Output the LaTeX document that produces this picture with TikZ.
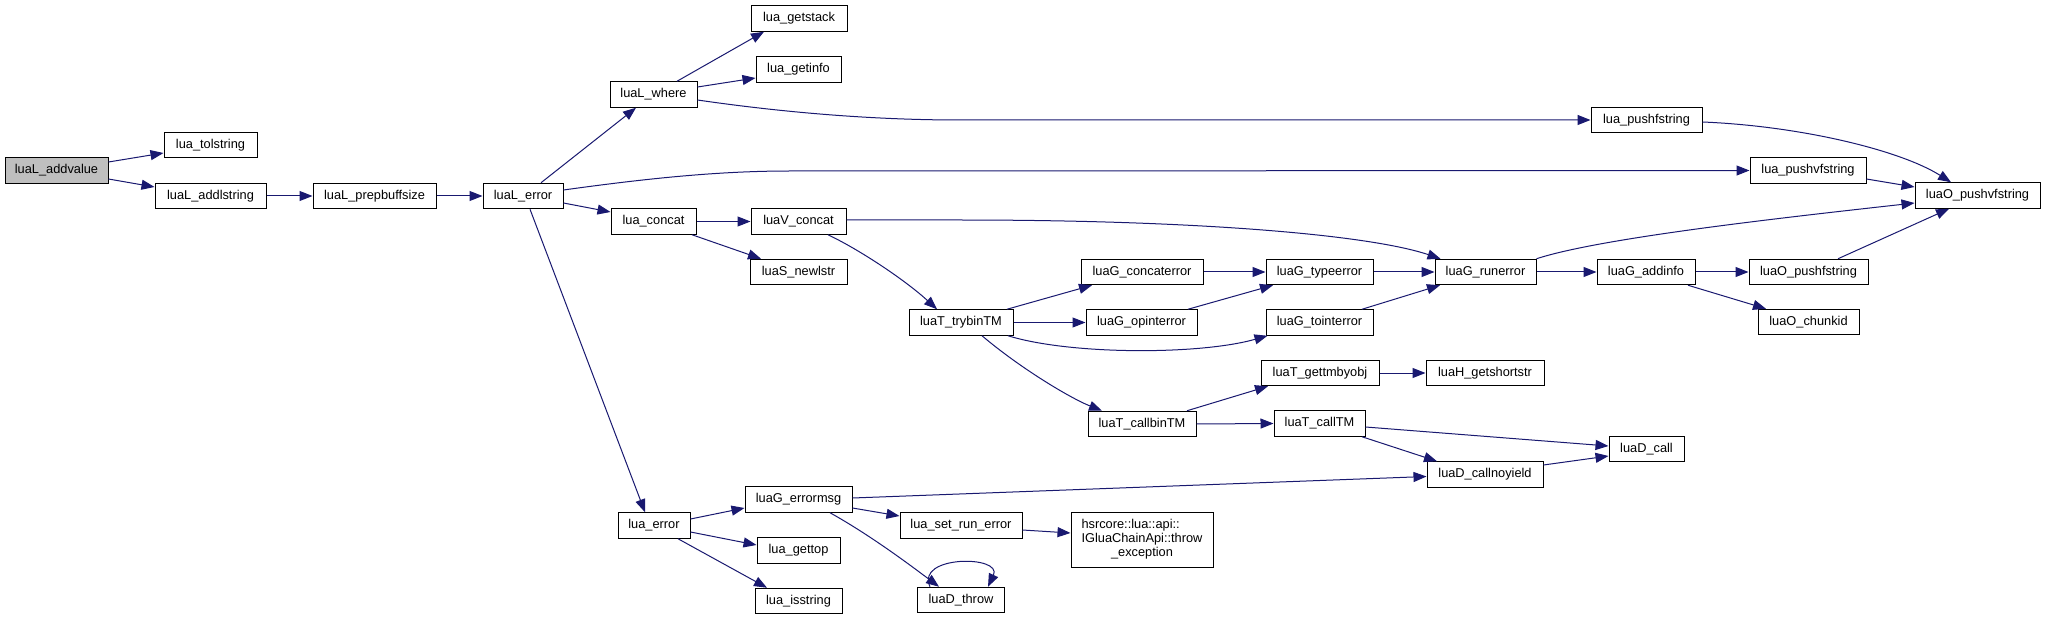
\documentclass[tikz,border=0pt]{standalone}
\usepackage{fontspec}
\setmainfont{Liberation Sans}
\usetikzlibrary{arrows.meta}
\definecolor{edgeblue}{RGB}{25,25,112}
\definecolor{nodegray}{RGB}{191,191,191}
\tikzset{
  fbox/.style={draw=black, line width=1pt, fill=white, rectangle, inner sep=0pt,
    minimum height=25.5pt, font=\fontsize{12.8}{14}\selectfont, text=black},
  callarrow/.style={draw=edgeblue, line width=1pt,
    -{Triangle[length=13pt,width=10pt]}, fill=none},
}
\begin{document}
\begin{tikzpicture}[x=1pt,y=-1pt]
\useasboundingbox[fill=white] (0,0) rectangle (2045,620);
% nodes
\node[fbox, minimum width=103pt, fill=nodegray] (addvalue) at (56.5,170.5) {luaL\_addvalue};
\node[fbox, minimum width=93pt] (tolstring) at (210.5,145) {lua\_tolstring};
\node[fbox, minimum width=111pt] (addlstring) at (210.5,196) {luaL\_addlstring};
\node[fbox, minimum width=123pt] (prepbuff) at (374.5,196) {luaL\_prepbuffsize};
\node[fbox, minimum width=80pt] (luaLerror) at (523,196) {luaL\_error};
\node[fbox, minimum width=87pt] (where) at (653.5,94.5) {luaL\_where};
\node[fbox, minimum width=85pt] (concat) at (653.5,221.5) {lua\_concat};
\node[fbox, minimum width=72pt] (luaerror) at (654,525.5) {lua\_error};
\node[fbox, minimum width=96pt] (getstack) at (799,18.5) {lua\_getstack};
\node[fbox, minimum width=85pt] (getinfo) at (798.5,69.5) {lua\_getinfo};
\node[fbox, minimum width=95pt] (Vconcat) at (798.5,221.5) {luaV\_concat};
\node[fbox, minimum width=97pt] (newlstr) at (798.5,272) {luaS\_newlstr};
\node[fbox, minimum width=107pt] (errormsg) at (798.5,499.5) {luaG\_errormsg};
\node[fbox, minimum width=83pt] (gettop) at (798.5,550.5) {lua\_gettop};
\node[fbox, minimum width=87pt] (isstring) at (798.5,601) {lua\_isstring};
\node[fbox, minimum width=104pt] (trybinTM) at (961,322.5) {luaT\_trybinTM};
\node[fbox, minimum width=122pt] (setrun) at (961,525.5) {lua\_set\_run\_error};
\node[fbox, minimum width=87pt] (throw) at (961,600) {luaD\_throw};
\node[fbox, minimum width=122pt] (concaterror) at (1142,272) {luaG\_concaterror};
\node[fbox, minimum width=111pt] (opinterror) at (1141.5,322.5) {luaG\_opinterror};
\node[fbox, minimum width=108pt] (callbinTM) at (1142,424) {luaT\_callbinTM};
\node[fbox, minimum width=142pt, minimum height=55pt] (hsrcore) at (1142,539.5)
  {\renewcommand{\arraystretch}{1}\begin{tabular}{@{}l@{}}hsrcore::lua::api::\\IGluaChainApi::throw\\\multicolumn{1}{@{}c@{}}{\_exception}\end{tabular}};
\node[fbox, minimum width=107pt] (typeerror) at (1319.5,272) {luaG\_typeerror};
\node[fbox, minimum width=107pt] (tointerror) at (1319.5,322.5) {luaG\_tointerror};
\node[fbox, minimum width=118pt] (gettmbyobj) at (1320,373) {luaT\_gettmbyobj};
\node[fbox, minimum width=91pt] (callTM) at (1319.5,423.5) {luaT\_callTM};
\node[fbox, minimum width=101pt] (runerror) at (1485.5,272) {luaG\_runerror};
\node[fbox, minimum width=118pt] (getshortstr) at (1485,373) {luaH\_getshortstr};
\node[fbox, minimum width=116pt] (callnoyield) at (1485,474.5) {luaD\_callnoyield};
\node[fbox, minimum width=111pt] (pushfstring) at (1646.5,120) {lua\_pushfstring};
\node[fbox, minimum width=98pt] (addinfo) at (1646,272) {luaG\_addinfo};
\node[fbox, minimum width=75pt] (Dcall) at (1646.5,449) {luaD\_call};
\node[fbox, minimum width=116pt] (pushvfstring) at (1808,170.5) {lua\_pushvfstring};
\node[fbox, minimum width=119pt] (Opushfstring) at (1808.5,272) {luaO\_pushfstring};
\node[fbox, minimum width=101pt] (chunkid) at (1808.5,322) {luaO\_chunkid};
\node[fbox, minimum width=125pt] (Opushvfstring) at (1977.5,195.5) {luaO\_pushvfstring};
% edges
\draw[callarrow] ([shift={(0,-8.5)}]addvalue.east) -- ([shift={(0,8)}]tolstring.west);
\draw[callarrow] ([shift={(0,8.5)}]addvalue.east) -- ([shift={(0,-9)}]addlstring.west);
\draw[callarrow] (addlstring.east) -- (prepbuff.west);
\draw[callarrow] (prepbuff.east) -- (luaLerror.west);
\draw[callarrow] ([shift={(18,0)}]luaLerror.north) -- ([shift={(-17.5,0)}]where.south);
\draw[callarrow] ([shift={(0,-6)}]luaLerror.east) .. controls (650,178) and (720,171) .. (790,171) -- (pushvfstring.west);
\draw[callarrow] ([shift={(0,7)}]luaLerror.east) -- ([shift={(0,-9.5)}]concat.west);
\draw[callarrow] ([shift={(7,0)}]luaLerror.south) -- ([shift={(-9,0)}]luaerror.north);
\draw[callarrow] ([shift={(23.5,0)}]where.north) -- ([shift={(-35,0)}]getstack.south);
\draw[callarrow] ([shift={(0,-7.5)}]where.east) -- ([shift={(0,8.5)}]getinfo.west);
\draw[callarrow] ([shift={(0,5.5)}]where.east) .. controls (780,112) and (870,120) .. (960,120) -- (pushfstring.west);
\draw[callarrow] ([shift={(0,2)}]pushfstring.east) .. controls (1800,126) and (1900,150) .. ([shift={(-26.5,0)}]Opushvfstring.north);
\draw[callarrow] ([shift={(0,8.5)}]pushvfstring.east) -- ([shift={(0,-8.5)}]Opushvfstring.west);
\draw[callarrow] (concat.east) -- (Vconcat.west);
\draw[callarrow] ([shift={(38.5,0)}]concat.south) -- ([shift={(-37.5,0)}]newlstr.north);
\draw[callarrow] ([shift={(0,-1.5)}]Vconcat.east) -- (960,220) .. controls (1200,220) and (1370,235) .. ([shift={(-45,0)}]runerror.north);
\draw[callarrow] ([shift={(29.5,0)}]Vconcat.south) .. controls (860,250) and (905,280) .. ([shift={(-24,0)}]trybinTM.north);
\draw[callarrow] ([shift={(46,0)}]trybinTM.north) -- ([shift={(-50,0)}]concaterror.south);
\draw[callarrow] (trybinTM.east) -- (opinterror.west);
\draw[callarrow] ([shift={(47,0)}]trybinTM.south) .. controls (1070,355) and (1200,355) .. ([shift={(2,0)}]tointerror.south west);
\draw[callarrow] ([shift={(21,0)}]trybinTM.south) .. controls (1020,368) and (1070,398) .. ([shift={(-40,0)}]callbinTM.north);
\draw[callarrow] (concaterror.east) -- (typeerror.west);
\draw[callarrow] ([shift={(46.5,0)}]opinterror.north) -- ([shift={(-46.5,0)}]typeerror.south);
\draw[callarrow] (typeerror.east) -- (runerror.west);
\draw[callarrow] ([shift={(42.5,0)}]tointerror.north) -- ([shift={(-45.5,0)}]runerror.south);
\draw[callarrow] (runerror.north east) .. controls (1600,238) and (1780,218) .. ([shift={(0,7.5)}]Opushvfstring.west);
\draw[callarrow] (runerror.east) -- (addinfo.west);
\draw[callarrow] (addinfo.east) -- (Opushfstring.west);
\draw[callarrow] ([shift={(42,0)}]addinfo.south) -- ([shift={(-42.5,0)}]chunkid.north);
\draw[callarrow] ([shift={(29.5,0)}]Opushfstring.north) -- ([shift={(-28.5,0)}]Opushvfstring.south);
\draw[callarrow] ([shift={(45,0)}]callbinTM.north) -- ([shift={(-52,0)}]gettmbyobj.south);
\draw[callarrow] (callbinTM.east) -- (callTM.west);
\draw[callarrow] (gettmbyobj.east) -- (getshortstr.west);
\draw[callarrow] ([shift={(0,3.5)}]callTM.east) -- ([shift={(0,-3)}]Dcall.west);
\draw[callarrow] ([shift={(42.5,0)}]callTM.south) -- ([shift={(-48,0)}]callnoyield.north);
\draw[callarrow] ([shift={(0,-9.5)}]callnoyield.east) -- ([shift={(0,7)}]Dcall.west);
\draw[callarrow] ([shift={(0,-6.5)}]luaerror.east) -- ([shift={(0,8.5)}]errormsg.west);
\draw[callarrow] ([shift={(0,6.5)}]luaerror.east) -- ([shift={(0,-5.5)}]gettop.west);
\draw[callarrow] ([shift={(24,0)}]luaerror.south) -- ([shift={(-31.5,0)}]isstring.north);
\draw[callarrow] ([shift={(0,-1.5)}]errormsg.east) -- ([shift={(0,2)}]callnoyield.west);
\draw[callarrow] ([shift={(0,8.5)}]errormsg.east) -- ([shift={(0,-9.5)}]setrun.west);
\draw[callarrow] ([shift={(31.5,0)}]errormsg.south) .. controls (870,535) and (910,565) .. ([shift={(-22,0)}]throw.north);
\draw[callarrow] ([shift={(0,4.5)}]setrun.east) -- ([shift={(0,-6.5)}]hsrcore.west);
\draw[callarrow] ([shift={(-31,0)}]throw.north) .. controls (915,555) and (1003,555) .. ([shift={(27,0)}]throw.north);
\end{tikzpicture}
\end{document}
